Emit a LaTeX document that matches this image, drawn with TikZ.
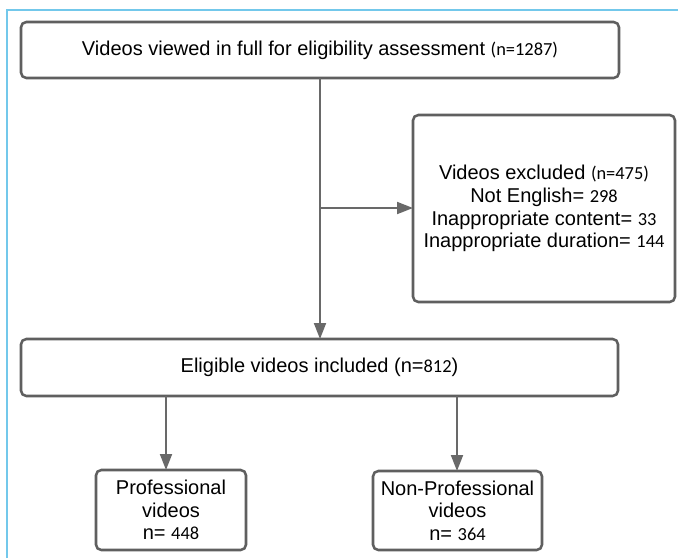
\documentclass[tikz,border=0pt]{standalone}
\usepackage{fontspec}
\setmainfont{Liberation Sans}
\newfontfamily\numf{Carlito}
\usetikzlibrary{arrows.meta}
\definecolor{frameblue}{RGB}{115,200,235}
\definecolor{boxgray}{RGB}{95,95,95}
\definecolor{linegray}{RGB}{105,105,105}
\newcommand{\nm}[1]{{\numf\fontsize{13.8pt}{17pt}\selectfont #1}}
\begin{document}
\begin{tikzpicture}[x=0.75pt,y=-0.75pt,
  box/.style={draw=boxgray, line width=1.9pt, rounded corners=4pt, fill=white,
    inner sep=0pt, outer sep=0pt, align=center,
    font=\fontsize{15pt}{17pt}\selectfont},
  conn/.style={draw=linegray, line width=1.4pt, -{Triangle[length=12pt,width=9pt]}}]
\useasboundingbox (0,0) rectangle (678,558);
\fill[white] (0,0) rectangle (678,558);
\draw[frameblue, line width=1.2pt] (7,558) -- (7,10) -- (678,10);

\node[box, minimum width=448.5pt, minimum height=42pt] (top) at (320,50)
  {Videos viewed in full for eligibility assessment \nm{(n=1287)}};
\node[box, minimum width=196.5pt, minimum height=140.25pt] (excl) at (544,208.5)
  {Videos excluded \nm{(n=475)}\\
   Not English= \nm{298}\\
   Inappropriate content= \nm{33}\\
   Inappropriate duration= \nm{144}};
\node[box, minimum width=447.75pt, minimum height=42.75pt] (elig) at (319.5,367.5)
  {Eligible videos included (n=\nm{812})};
\node[box, minimum width=112.5pt, minimum height=60pt] (prof) at (171,510)
  {Professional\\videos\\n= \nm{448}};
\node[box, minimum width=126.75pt, minimum height=59.25pt] (nonprof) at (457.5,510.5)
  {Non-Professional\\videos\\n= \nm{364}};

\coordinate (branch) at (320,208);
\coordinate (pa) at (166,0);
\coordinate (na) at (457,0);
\draw[conn] (top.south -| branch) -- (elig.north -| branch);
\draw[conn] (branch) -- (excl.west |- branch);
\draw[conn] (elig.south -| pa) -- (prof.north -| pa);
\draw[conn] (elig.south -| na) -- (nonprof.north -| na);
\end{tikzpicture}
\end{document}
